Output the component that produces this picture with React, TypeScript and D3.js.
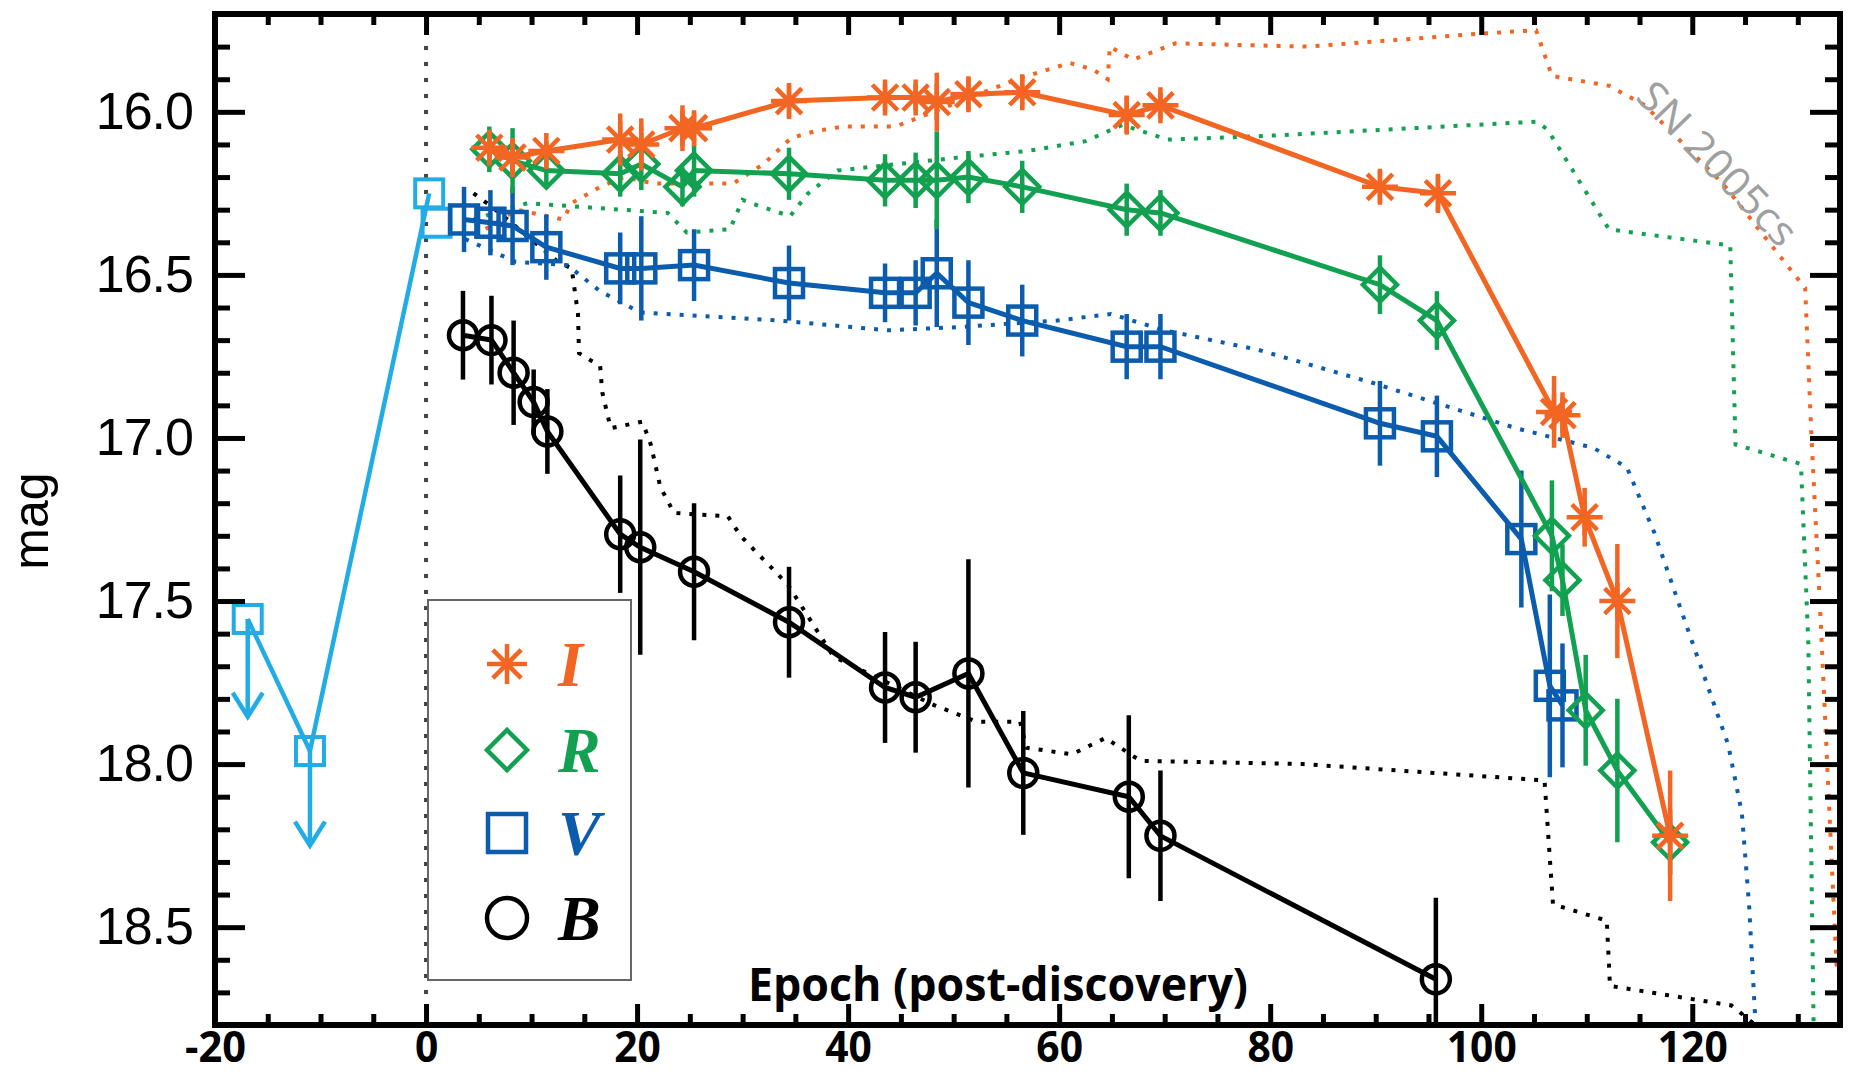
import React, { Component } from "react";
import * as d3 from "d3";

// ---- axis ticks ----
const xMajorTicks = [-20, 0, 20, 40, 60, 80, 100, 120];
const xTickLabels = ["-20", "0", "20", "40", "60", "80", "100", "120"];
const yMajorTicks = [16.0, 16.5, 17.0, 17.5, 18.0, 18.5];
const yTickLabels = ["16.0", "16.5", "17.0", "17.5", "18.0", "18.5"];

// ---- I band ----
const iEpoch = [6.0, 8.2, 11.4, 18.4, 20.4, 24.3, 25.4, 34.4, 43.5, 46.4, 48.4, 51.4, 56.5, 66.4, 69.6, 90.4, 95.9, 106.9, 107.7, 109.8, 112.9, 117.9];
const iMag = [16.11, 16.14, 16.12, 16.085, 16.1, 16.05, 16.05, 15.967, 15.956, 15.956, 15.97, 15.946, 15.94, 16.01, 15.98, 16.23, 16.25, 16.92, 16.93, 17.243, 17.5, 18.22];
const iErr = [0.05, 0.06, 0.03, 0.08, 0.08, 0.07, 0.05, 0.05, 0.04, 0.04, 0.09, 0.05, 0.05, 0.06, 0.04, 0.05, 0.06, 0.11, 0.07, 0.09, 0.175, 0.2];

// ---- R band ----
const rEpoch = [6.0, 8.2, 11.4, 18.4, 20.4, 24.3, 25.4, 34.4, 43.5, 46.4, 48.4, 51.4, 56.5, 66.4, 69.6, 90.4, 95.8, 106.7, 107.7, 109.9, 112.9, 117.9];
const rMag = [16.115, 16.15, 16.18, 16.19, 16.16, 16.23, 16.18, 16.19, 16.21, 16.21, 16.21, 16.2, 16.23, 16.3, 16.31, 16.53, 16.64, 17.3, 17.436, 17.835, 18.02, 18.24];
const rErr = [0.07, 0.1, 0.05, 0.07, 0.08, 0.06, 0.08, 0.08, 0.08, 0.085, 0.15, 0.08, 0.08, 0.08, 0.07, 0.09, 0.09, 0.17, 0.11, 0.17, 0.22, 0.1];

// ---- V band ----
const vEpoch = [3.6, 6.1, 8.2, 11.4, 18.4, 20.4, 25.4, 34.4, 43.5, 46.4, 48.4, 51.4, 56.5, 66.4, 69.6, 90.4, 95.8, 103.8, 106.5, 107.7];
const vMag = [16.33, 16.34, 16.35, 16.415, 16.48, 16.48, 16.47, 16.525, 16.555, 16.555, 16.495, 16.585, 16.64, 16.72, 16.72, 16.955, 16.995, 17.31, 17.76, 17.82];
const vErr = [0.1, 0.1, 0.12, 0.1, 0.11, 0.16, 0.11, 0.115, 0.09, 0.1, 0.165, 0.13, 0.11, 0.1, 0.1, 0.13, 0.125, 0.21, 0.28, 0.19];

// ---- B band ----
const bEpoch = [3.5, 6.2, 8.3, 10.2, 11.5, 18.4, 20.3, 25.4, 34.4, 43.5, 46.4, 51.4, 56.6, 66.6, 69.6, 95.7];
const bMag = [16.685, 16.7, 16.8, 16.89, 16.98, 17.295, 17.335, 17.41, 17.565, 17.765, 17.795, 17.722, 18.027, 18.1, 18.22, 18.66];
const bErr = [0.136, 0.136, 0.16, 0.1, 0.13, 0.18, 0.33, 0.21, 0.17, 0.17, 0.17, 0.35, 0.19, 0.25, 0.2, 0.25];

// ---- early V (pre-discovery limits + first detections) ----
const earlyEpoch = [-16.9, -11.0, 0.3, 1.0];
const earlyMag = [17.555, 17.96, 16.25, 16.34];
const limitArrowTo = [17.855, 18.25];

// ---- SN 2005cs comparison curves ----
const tplBEpoch = [4.5, 6.2, 9.2, 12.5, 13.8, 14.4, 14.5, 16.5, 16.7, 17.5, 20.5, 21.3, 22.2, 23.5, 28.6, 29.8, 34.3, 38.6, 48.2, 52.2, 56.3, 56.9, 61.2, 64.4, 67.7, 83.1, 106.0, 106.8, 111.9, 112.2, 123.7, 126.0];
const tplBMag = [16.25, 16.29, 16.37, 16.46, 16.48, 16.62, 16.74, 16.78, 16.86, 16.97, 16.95, 17.02, 17.15, 17.23, 17.24, 17.3, 17.45, 17.67, 17.82, 17.87, 17.87, 17.95, 17.97, 17.92, 17.99, 18.0, 18.05, 18.43, 18.48, 18.68, 18.74, 18.8];

const tplVEpoch = [3.7, 8.5, 13.4, 16.5, 20.3, 33.5, 43.8, 50.5, 59.8, 64.9, 70.0, 78.9, 89.6, 103.3, 110.6, 113.8, 116.4, 119.5, 123.4, 124.7, 125.4, 126.0];
const tplVMag = [16.39, 16.46, 16.47, 16.55, 16.615, 16.64, 16.67, 16.66, 16.64, 16.62, 16.67, 16.73, 16.83, 16.97, 17.03, 17.09, 17.29, 17.58, 17.94, 18.15, 18.44, 18.8];

const tplREpoch = [4.5, 9.6, 18.5, 22.9, 24.7, 28.8, 30.0, 31.7, 34.5, 36.2, 39.0, 50.5, 57.0, 62.5, 66.0, 70.3, 78.9, 93.6, 105.3, 106.3, 112.1, 123.6, 124.1, 130.3, 131.0, 131.5];
const tplRMag = [16.33, 16.28, 16.3, 16.31, 16.37, 16.36, 16.27, 16.29, 16.32, 16.25, 16.18, 16.14, 16.12, 16.09, 16.04, 16.085, 16.075, 16.05, 16.03, 16.055, 16.36, 16.41, 17.02, 17.08, 17.63, 18.8];

const tplIEpoch = [4.6, 8.6, 13.0, 13.8, 16.5, 18.8, 21.6, 29.1, 32.0, 34.6, 36.8, 39.5, 44.5, 56.0, 61.0, 63.2, 64.6, 64.8, 67.0, 71.0, 83.5, 100.0, 105.2, 106.7, 112.1, 115.5, 122.9, 129.7, 130.7, 131.3, 132.2, 132.8, 133.5, 133.7, 135.0];
const tplIMag = [16.38, 16.3, 16.33, 16.28, 16.23, 16.2, 16.22, 16.22, 16.16, 16.08, 16.06, 16.045, 16.045, 15.9, 15.85, 15.87, 15.9, 15.8, 15.84, 15.79, 15.8, 15.76, 15.75, 15.89, 15.92, 15.98, 16.22, 16.5, 16.54, 17.0, 17.58, 18.01, 18.5, 18.63, 18.63];

const ORANGE = "#f26522";
const GREEN = "#12a150";
const BLUE = "#0b5cad";
const CYAN = "#22ace6";
const BLACK = "#000000";

function asteriskPath(r) {
    const d = r * Math.SQRT1_2;
    return `M0,${-r}L0,${r}M${-r},0L${r},0M${-d},${-d}L${d},${d}M${-d},${d}L${d},${-d}`;
}

function diamondPath(s) {
    return `M0,${-s}L${s},0L0,${s}L${-s},0Z`;
}

function drawMarker(g, kind, cx, cy, size, color, sw) {
    if (kind === "asterisk") {
        g.append("path").attr("d", asteriskPath(size)).attr("transform", `translate(${cx},${cy})`)
            .attr("stroke", color).attr("stroke-width", sw).attr("fill", "none");
    } else if (kind === "diamond") {
        g.append("path").attr("d", diamondPath(size)).attr("transform", `translate(${cx},${cy})`)
            .attr("stroke", color).attr("stroke-width", sw).attr("fill", "none");
    } else if (kind === "square") {
        g.append("rect").attr("x", cx - size).attr("y", cy - size).attr("width", size * 2).attr("height", size * 2)
            .attr("stroke", color).attr("stroke-width", sw).attr("fill", "none");
    } else {
        g.append("circle").attr("cx", cx).attr("cy", cy).attr("r", size)
            .attr("stroke", color).attr("stroke-width", sw).attr("fill", "none");
    }
}

class App extends Component {
    svgRef = React.createRef();

    componentDidMount() {
        this.drawChart();
    }

    componentDidUpdate() {
        this.drawChart();
    }

    drawChart() {
        const width = 1856;
        const height = 1077;
        const plotLeft = 215, plotRight = 1840, plotTop = 14, plotBottom = 1025;

        const svg = d3.select(this.svgRef.current);
        svg.selectAll("*").remove();

        const x = d3.scaleLinear().domain([-20, 134]).range([plotLeft, plotRight]);
        const y = d3.scaleLinear().domain([15.7, 18.8]).range([plotTop, plotBottom]);

        svg.append("rect").attr("width", width).attr("height", height).attr("fill", "#fff");

        svg.append("defs").append("clipPath").attr("id", "plot-clip")
            .append("rect")
            .attr("x", plotLeft).attr("y", plotTop)
            .attr("width", plotRight - plotLeft).attr("height", plotBottom - plotTop);

        const plot = svg.append("g").attr("clip-path", "url(#plot-clip)");

        // discovery date
        plot.append("line")
            .attr("x1", x(0)).attr("x2", x(0)).attr("y1", plotTop).attr("y2", plotBottom)
            .attr("stroke", "#444").attr("stroke-width", 4).attr("stroke-dasharray", "4 12");

        const line = d3.line().x(d => x(d[0])).y(d => y(d[1]));
        const zip = (a, b) => a.map((v, i) => [v, b[i]]);

        // SN 2005cs templates
        const templates = [
            { epoch: tplBEpoch, mag: tplBMag, color: BLACK },
            { epoch: tplVEpoch, mag: tplVMag, color: BLUE },
            { epoch: tplREpoch, mag: tplRMag, color: GREEN },
            { epoch: tplIEpoch, mag: tplIMag, color: ORANGE },
        ];
        templates.forEach(t => {
            plot.append("path")
                .attr("d", line(zip(t.epoch, t.mag)))
                .attr("fill", "none")
                .attr("stroke", t.color)
                .attr("stroke-width", 4)
                .attr("stroke-dasharray", "4 9");
        });

        // early V: limits and rise
        plot.append("path")
            .attr("d", line(zip(earlyEpoch.slice(0, 3), earlyMag.slice(0, 3))))
            .attr("fill", "none").attr("stroke", CYAN).attr("stroke-width", 4.5);
        limitArrowTo.forEach((to, i) => {
            const cx = x(earlyEpoch[i]);
            const y0 = y(earlyMag[i]);
            const y1 = y(to);
            plot.append("line").attr("x1", cx).attr("x2", cx).attr("y1", y0).attr("y2", y1)
                .attr("stroke", CYAN).attr("stroke-width", 4.5);
            plot.append("path")
                .attr("d", `M${cx - 15},${y1 - 24}L${cx},${y1}L${cx + 15},${y1 - 24}`)
                .attr("fill", "none").attr("stroke", CYAN).attr("stroke-width", 4.5);
        });
        earlyEpoch.forEach((e, i) => {
            drawMarker(plot, "square", x(e), y(earlyMag[i]), 14, CYAN, 4);
        });

        // photometry
        const bands = [
            { epoch: bEpoch, mag: bMag, err: bErr, color: BLACK, marker: "circle", size: 14 },
            { epoch: vEpoch, mag: vMag, err: vErr, color: BLUE, marker: "square", size: 14 },
            { epoch: rEpoch, mag: rMag, err: rErr, color: GREEN, marker: "diamond", size: 17 },
            { epoch: iEpoch, mag: iMag, err: iErr, color: ORANGE, marker: "asterisk", size: 18 },
        ];
        bands.forEach(b => {
            plot.append("path")
                .attr("d", line(zip(b.epoch, b.mag)))
                .attr("fill", "none").attr("stroke", b.color).attr("stroke-width", 5);
            b.epoch.forEach((e, i) => {
                plot.append("line")
                    .attr("x1", x(e)).attr("x2", x(e))
                    .attr("y1", y(b.mag[i] - b.err[i])).attr("y2", y(b.mag[i] + b.err[i]))
                    .attr("stroke", b.color).attr("stroke-width", 4.5);
                drawMarker(plot, b.marker, x(e), y(b.mag[i]), b.size, b.color, 4.5);
            });
        });

        // legend
        const legend = svg.append("g");
        legend.append("rect")
            .attr("x", 428).attr("y", 600).attr("width", 203).attr("height", 380)
            .attr("fill", "#fff").attr("stroke", "#666").attr("stroke-width", 2);
        const legendItems = [
            { label: "I", color: ORANGE, marker: "asterisk", size: 20 },
            { label: "R", color: GREEN, marker: "diamond", size: 20 },
            { label: "V", color: BLUE, marker: "square", size: 19 },
            { label: "B", color: BLACK, marker: "circle", size: 20 },
        ];
        const legendRows = [664, 750, 833, 918];
        legendItems.forEach((item, i) => {
            drawMarker(legend, item.marker, 507, legendRows[i], item.size, item.color, 4.5);
            legend.append("text")
                .attr("x", 558).attr("y", legendRows[i] + 22)
                .attr("font-family", "'Liberation Serif', 'Times New Roman', serif")
                .attr("font-style", "italic").attr("font-weight", "bold")
                .attr("font-size", 64).attr("fill", item.color)
                .text(item.label);
        });

        // axes
        const xMinor = d3.range(-15, 134, 5).filter(v => !xMajorTicks.includes(v));
        const yMinor = d3.range(15.8, 18.75, 0.1).map(v => +v.toFixed(1)).filter(v => !yMajorTicks.includes(v));

        const styleAxis = g => {
            g.select(".domain").remove();
            g.selectAll(".tick line").attr("stroke", "#000").attr("stroke-width", 5);
        };

        const bottomG = svg.append("g").attr("transform", `translate(0,${plotBottom})`)
            .call(d3.axisBottom(x).tickValues(xMajorTicks).tickSize(-21).tickPadding(6)
                .tickFormat((d, i) => xTickLabels[i]));
        styleAxis(bottomG);
        bottomG.selectAll(".tick text")
            .attr("font-family", "'Open Sans', 'Noto Sans', sans-serif")
            .attr("font-weight", "bold").attr("font-size", 43).attr("fill", "#000")
            .attr("textLength", (d, i) => {
                const s = xTickLabels[i];
                let w = 0;
                for (const c of s) w += c === "-" ? 0.31 : 0.507;
                return w * 46;
            })
            .attr("lengthAdjust", "spacingAndGlyphs");
        svg.append("g").attr("transform", `translate(0,${plotBottom})`)
            .call(d3.axisBottom(x).tickValues(xMinor).tickSize(-11).tickFormat(() => ""))
            .call(styleAxis);

        svg.append("g").attr("transform", `translate(0,${plotTop})`)
            .call(d3.axisTop(x).tickValues(xMajorTicks).tickSize(-21).tickFormat(() => ""))
            .call(styleAxis);
        svg.append("g").attr("transform", `translate(0,${plotTop})`)
            .call(d3.axisTop(x).tickValues(xMinor).tickSize(-11).tickFormat(() => ""))
            .call(styleAxis);

        const leftG = svg.append("g").attr("transform", `translate(${plotLeft},0)`)
            .call(d3.axisLeft(y).tickValues(yMajorTicks).tickSize(-30).tickPadding(22)
                .tickFormat((d, i) => yTickLabels[i]));
        styleAxis(leftG);
        leftG.selectAll(".tick text")
            .attr("font-family", "'Liberation Sans', Arial, sans-serif")
            .attr("font-size", 52).attr("fill", "#000").attr("letter-spacing", -1);
        svg.append("g").attr("transform", `translate(${plotLeft},0)`)
            .call(d3.axisLeft(y).tickValues(yMinor).tickSize(-15).tickFormat(() => ""))
            .call(styleAxis);

        svg.append("g").attr("transform", `translate(${plotRight},0)`)
            .call(d3.axisRight(y).tickValues(yMajorTicks).tickSize(-30).tickFormat(() => ""))
            .call(styleAxis);
        svg.append("g").attr("transform", `translate(${plotRight},0)`)
            .call(d3.axisRight(y).tickValues(yMinor).tickSize(-15).tickFormat(() => ""))
            .call(styleAxis);

        // frame
        svg.append("rect")
            .attr("x", plotLeft).attr("y", plotTop)
            .attr("width", plotRight - plotLeft).attr("height", plotBottom - plotTop)
            .attr("fill", "none").attr("stroke", "#000").attr("stroke-width", 6);

        // axis titles
        svg.append("text")
            .attr("x", 998).attr("y", 1001)
            .attr("text-anchor", "middle")
            .attr("font-family", "'Open Sans', 'Noto Sans', sans-serif")
            .attr("font-weight", "bold").attr("font-size", 46)
            .attr("textLength", 500).attr("lengthAdjust", "spacingAndGlyphs")
            .text("Epoch (post-discovery)");

        svg.append("text")
            .attr("transform", "translate(48,521) rotate(-90)")
            .attr("text-anchor", "middle")
            .attr("font-family", "'Liberation Sans', Arial, sans-serif")
            .attr("font-size", 50)
            .text("mag");

        svg.append("text")
            .attr("transform", "translate(1715,166) rotate(46)")
            .attr("text-anchor", "middle").attr("dominant-baseline", "middle")
            .attr("font-family", "'Open Sans', 'Noto Sans', sans-serif")
            .attr("font-size", 41).attr("fill", "#a0a0a0")
            .attr("textLength", 210).attr("lengthAdjust", "spacingAndGlyphs")
            .text("SN 2005cs");
    }

    render() {
        return (
            <svg
                ref={this.svgRef}
                width={1856}
                height={1077}
                style={{ position: "absolute", left: 0, top: 0, display: "block" }}
            />
        );
    }
}

export default App;
